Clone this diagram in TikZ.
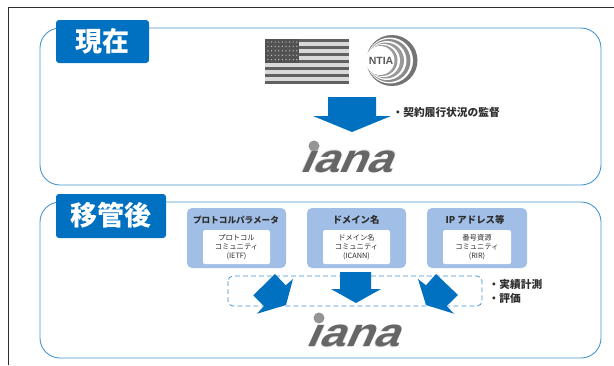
\documentclass[tikz,border=0pt]{standalone}
\usepackage{fontspec}
\setmainfont{Noto Sans CJK JP}
\newfontfamily\ianafont{Liberation Sans}
\definecolor{bluemain}{RGB}{0,112,192}
\definecolor{frameblue}{RGB}{70,150,210}
\definecolor{lightblue}{RGB}{160,190,230}
\definecolor{inkdark}{RGB}{45,45,45}
\tikzset{
  panel/.style={draw=frameblue,line width=0.9pt,rounded corners=20pt,fill=white},
  titlebox/.style={fill=bluemain,rounded corners=3pt},
  titletext/.style={text=white,font=\bfseries\fontsize{27}{29}\selectfont,inner sep=0pt},
  catbox/.style={fill=lightblue,rounded corners=5pt},
  innerbox/.style={fill=white,rounded corners=1.5pt},
  cattext/.style={font=\bfseries\fontsize{9.4}{11}\selectfont,text=inkdark,inner sep=0pt},
  innertext/.style={font=\fontsize{7.3}{9}\selectfont,text=inkdark,align=center,inner sep=0pt},
  notetext/.style={font=\bfseries\fontsize{10.7}{14.5}\selectfont,text=inkdark,align=left,inner sep=0pt},
  bigarrow/.style={fill=bluemain},
  ianatext/.style={font=\ianafont\bfseries\fontsize{40}{40}\selectfont,text=black!60,inner sep=0pt,xslant=0.45,xscale=1.15,transform shape},
  ianablur/.style={ianatext,text=black!30,opacity=0.45},
  ballmark/.style={fill=black!42},
}
\begin{document}
\begin{tikzpicture}[x=1pt,y=-1pt]
\useasboundingbox (0,0) rectangle (614,365);
\draw[inkdark,line width=1pt] (8.5,365) -- (8.5,7.5) -- (614,7.5);
% panel 1
\draw[panel] (40,28) rectangle (601,185);
\fill[titlebox] (56,20) rectangle (149,63);
\node[titletext] (t1) at (102.5,41) {現在};
% flag
\fill[black!15] (265,39) rectangle (349,84);
\foreach \i in {0,2,4,6,8,10,12}{\fill[black!62] (265,{39+\i*45/13}) rectangle (349,{39+(\i+1)*45/13});}
\fill[black!68] (265,39) rectangle (299,63);
\foreach \r in {0,...,4}{\foreach \c in {0,...,8}{\fill[black!25] ({268+\c*3.6},{42+\r*4.4}) circle (0.7);}}
% NTIA
\fill[black!55] (392,60.5) circle (25.5);
\fill[white] (390,60.5) circle (23);
\fill[black!45] (389,60.5) circle (21.5);
\fill[white] (387,60.5) circle (19.5);
\fill[black!40] (386,60.5) circle (18);
\fill[white] (383.5,60.5) circle (16.5);
\fill[black!40] (382,60.5) circle (15.5);
\fill[white] (380,60.5) circle (14.5);
\node[font=\ianafont\bfseries\fontsize{10.5}{10.5}\selectfont,text=black!65,inner sep=0pt] (ntia) at (381,60.5) {NTIA};
% arrow 1
\fill[bigarrow] (328,97) -- (376,97) -- (376,116) -- (391,116) -- (352,132) -- (313,116) -- (328,116) -- cycle;
\node[notetext,anchor=west] (n1) at (392.5,112) {・契約履行状況の監督};
% iana 1
\fill[ballmark] (314,146) circle (5.5);
\node[ianablur] (iana1b) at (349.5,162) {ıana};
\node[ianablur] (iana1c) at (350.5,161) {ıana};
\node[ianatext] (iana1) at (350,161.5) {ıana};
% panel 2
\draw[panel] (40,202) rectangle (601,358);
\fill[titlebox] (56,194) rectangle (166,238);
\node[titletext] (t2) at (111,215) {移管後};
% category boxes
\fill[catbox] (187,208) rectangle (286,268);
\fill[catbox] (307,208) rectangle (406,268);
\fill[catbox] (427,208) rectangle (527,268);
\fill[innerbox] (203,230) rectangle (270,264);
\fill[innerbox] (323,230) rectangle (390,264);
\fill[innerbox] (443,230) rectangle (511,264);
\node[cattext,font=\bfseries\fontsize{8.6}{11}\selectfont] (c1) at (236,220) {プロトコルパラメータ};
\node[cattext] (c2) at (356,220) {ドメイン名};
\node[cattext] (c3) at (475,220) {IP アドレス等};
\node[innertext] (i1) at (236.5,247) {プロトコル\\コミュニティ\\(IETF)};
\node[innertext] (i2) at (356.5,247) {ドメイン名\\コミュニティ\\(ICANN)};
\node[innertext] (i3) at (477,247) {番号資源\\コミュニティ\\(RIR)};
% dashed
\draw[frameblue,line width=0.8pt,dash pattern=on 5pt off 3pt,rounded corners=5pt] (228,276) rectangle (482,306);
% arrows
\fill[bigarrow] (340,272) -- (371,272) -- (371,289) -- (381,289) -- (356,303) -- (331,289) -- (340,289) -- cycle;
\fill[bigarrow] (275,274) -- (253.3,295.3) -- (264,306) -- (257,313.7) -- (286,305) -- (293,279) -- (285.7,285.3) -- cycle;
\fill[bigarrow] (436,274) -- (458,295) -- (446.7,306) -- (454,313.7) -- (426,305) -- (418,279) -- (426,285.3) -- cycle;
\node[notetext,anchor=north west] (n2) at (488.5,279) {・実績計測\\・評価};
% iana 2
\fill[ballmark] (319,318) circle (5.5);
\node[ianablur] (iana2b) at (356,336.5) {ıana};
\node[ianablur] (iana2c) at (357,335.5) {ıana};
\node[ianatext] (iana2) at (356.5,336) {ıana};
\end{tikzpicture}
\end{document}
